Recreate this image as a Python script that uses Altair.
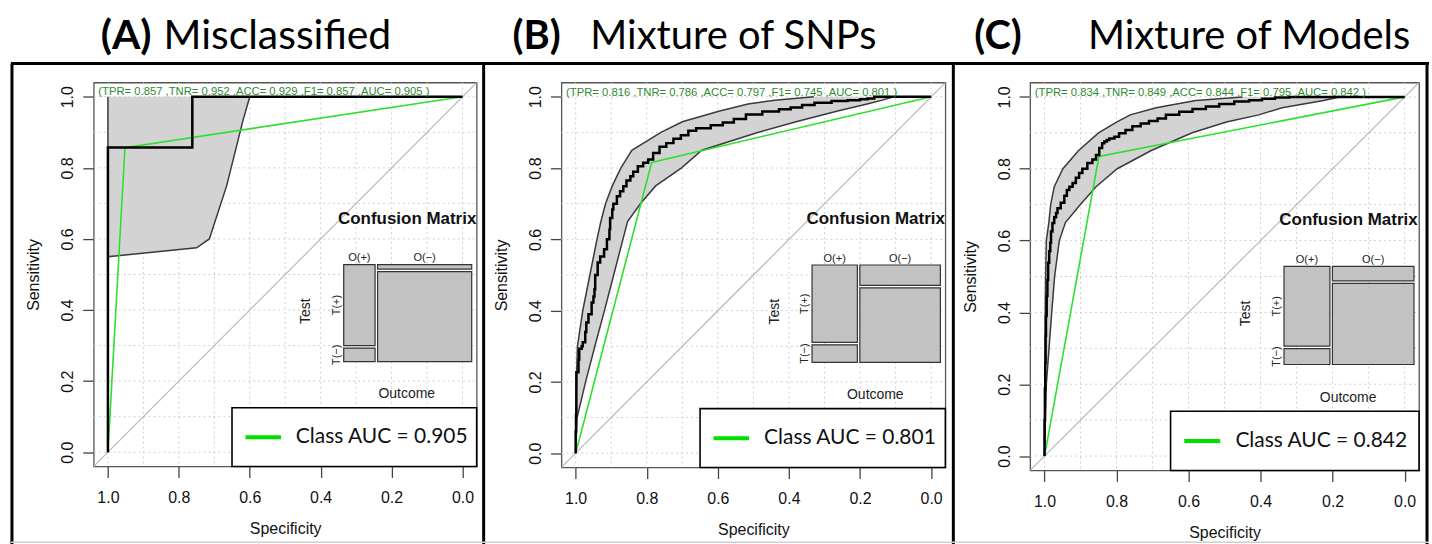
import altair as alt
import pandas as pd

# ---------------- data ----------------
PANEL_TAGS = ["(A)", "(B)", "(C)"]
PANEL_NAMES = ["Misclassified", "Mixture of SNPs", "Mixture of Models"]
TPR = [0.857, 0.816, 0.834]
TNR = [0.952, 0.786, 0.849]
ACC = [0.929, 0.797, 0.844]
F1 = [0.857, 0.745, 0.795]
AUC = [0.905, 0.801, 0.842]
POS_SHARE = [0.25, 0.36, 0.36]   # width share of the O(+) column in the mosaic

AXIS_TICKS = [0.0, 0.2, 0.4, 0.6, 0.8, 1.0]
GRID_STEPS = [0.0, 0.1, 0.2, 0.3, 0.4, 0.5, 0.6, 0.7, 0.8, 0.9, 1.0]

# black ROC curves (specificity, sensitivity)
ROC_SPEC = [
    [1.0, 1.0, 0.762, 0.762, 0.0],
    [1.0, 0.999, 0.998, 0.992, 0.990, 0.983, 0.980, 0.973, 0.970, 0.964, 0.955, 0.950, 0.947,
     0.945, 0.938, 0.931, 0.920, 0.912, 0.905, 0.903, 0.897, 0.894, 0.884, 0.875, 0.866,
     0.857, 0.846, 0.838, 0.825, 0.810, 0.796, 0.782, 0.764, 0.745, 0.725, 0.704, 0.683,
     0.661, 0.620, 0.586, 0.555, 0.521, 0.475, 0.428, 0.395, 0.363, 0.328, 0.280, 0.235,
     0.200, 0.179, 0.160, 0.142, 0.0],
    [1.0, 0.999, 0.998, 0.997, 0.996, 0.994, 0.992, 0.990, 0.987, 0.984, 0.982, 0.978, 0.973,
     0.968, 0.964, 0.955, 0.945, 0.938, 0.931, 0.922, 0.913, 0.904, 0.895, 0.881, 0.867,
     0.857, 0.848, 0.840, 0.834, 0.827, 0.820, 0.806, 0.793, 0.775, 0.756, 0.733, 0.710,
     0.686, 0.663, 0.626, 0.589, 0.552, 0.515, 0.473, 0.432, 0.396, 0.360, 0.320, 0.280, 0.0],
]
ROC_SENS = [
    [0.0, 0.857, 0.857, 1.0, 1.0],
    [0.0, 0.060, 0.107, 0.227, 0.262, 0.293, 0.300, 0.311, 0.340, 0.367, 0.390, 0.423, 0.440,
     0.460, 0.500, 0.535, 0.552, 0.572, 0.600, 0.628, 0.660, 0.684, 0.700, 0.721, 0.735,
     0.749, 0.765, 0.777, 0.790, 0.805, 0.815, 0.824, 0.842, 0.860, 0.870, 0.882, 0.892,
     0.905, 0.912, 0.920, 0.928, 0.938, 0.950, 0.959, 0.965, 0.970, 0.977, 0.983, 0.988,
     0.990, 0.993, 0.995, 1.0, 1.0],
    [0.0, 0.100, 0.188, 0.260, 0.335, 0.390, 0.446, 0.490, 0.538, 0.570, 0.594, 0.625, 0.649,
     0.665, 0.677, 0.690, 0.705, 0.725, 0.741, 0.750, 0.760, 0.775, 0.788, 0.800, 0.816,
     0.826, 0.838, 0.858, 0.871, 0.876, 0.880, 0.884, 0.889, 0.899, 0.908, 0.918, 0.926,
     0.933, 0.940, 0.950, 0.959, 0.966, 0.973, 0.980, 0.987, 0.991, 0.995, 0.998, 1.0, 1.0],
]

# confidence band: at each sensitivity, the specificity of the outer and inner limit
BAND_SENS = [
    [0.0, 0.55, 0.575, 0.60, 0.75, 0.93, 1.0],
    [0.0, 0.1, 0.2, 0.3, 0.4, 0.5, 0.6, 0.65, 0.7, 0.75, 0.8, 0.85, 0.9, 0.93, 0.96, 0.98, 0.99, 1.0],
    [0.0, 0.2, 0.4, 0.5, 0.6, 0.65, 0.7, 0.75, 0.8, 0.85, 0.9, 0.93, 0.95, 0.97, 0.99, 1.0],
]
BAND_HI = [
    [1.0, 1.0, 1.0, 1.0, 1.0, 1.0, 1.0],
    [1.0, 0.999, 0.998, 0.995, 0.980, 0.960, 0.940, 0.929, 0.916, 0.897, 0.873, 0.842, 0.760,
     0.700, 0.595, 0.515, 0.440, 0.330],
    [1.0, 0.999, 0.998, 0.997, 0.995, 0.988, 0.983, 0.973, 0.949, 0.906, 0.850, 0.800, 0.762,
     0.690, 0.580, 0.450],
]
BAND_LO = [
    [1.0, 1.0, 0.75, 0.714, 0.665, 0.62, 0.60],
    [1.0, 0.996, 0.972, 0.946, 0.919, 0.893, 0.867, 0.854, 0.818, 0.775, 0.703, 0.645, 0.488,
     0.380, 0.263, 0.180, 0.140, 0.105],
    [1.0, 0.995, 0.980, 0.972, 0.959, 0.942, 0.901, 0.857, 0.798, 0.705, 0.590, 0.495, 0.405,
     0.340, 0.225, 0.180],
]

# ---------------- layout ----------------
W = [384, 385, 390]
H = [385, 386, 389]
SPACING = 85
ORIGIN_X = [93, 562, 1032]
ORIGIN_Y = 81
PAGE_W, PAGE_H = 1432, 544
TITLE_TAG_X = [100, 513, 976]
TITLE_NAME_X = [163, 591, 1090]
TITLE_SIZE = [41, 40, 40]
TITLE_BASE_Y = 47

R_FONT = "Liberation Sans"
PPT_FONT = "Lato"
GREEN = "#2ee02e"
STAT_GREEN = "#2E8B2E"
DOM = [-0.04, 1.04]


def panel(i):
    w, h = W[i], H[i]
    xs = alt.Scale(domain=DOM, reverse=True, nice=False, zero=False)
    ys = alt.Scale(domain=DOM, nice=False, zero=False)
    xaxis = alt.Axis(values=AXIS_TICKS, format=".1f", title="Specificity", grid=False, domain=False,
                     tickSize=11, tickColor="#444", tickWidth=1.3, labelFont=R_FONT, labelFontSize=16,
                     labelPadding=12, labelColor="#111", labelFlush=False, labelOverlap=False,
                     titleFont=R_FONT, titleFontSize=16, titleFontWeight="normal", titleColor="#111",
                     titleY=62, titleBaseline="middle")
    yaxis = alt.Axis(values=AXIS_TICKS, format=".1f", title="Sensitivity", grid=False, domain=False,
                     tickSize=11, tickColor="#444", tickWidth=1.3, labelFont=R_FONT, labelFontSize=16,
                     labelPadding=10, labelColor="#111", labelFlush=False, labelOverlap=False,
                     labelAngle=270, labelAlign="center", labelBaseline="alphabetic",
                     titleFont=R_FONT, titleFontSize=16, titleFontWeight="normal", titleColor="#111",
                     titleAngle=270, titleX=-60, titleY=h / 2, titleAlign="center", titleBaseline="middle")

    def X(f):
        return alt.X(f, type="quantitative", scale=xs, axis=xaxis)

    def Y(f):
        return alt.Y(f, type="quantitative", scale=ys, axis=yaxis)

    one = pd.DataFrame({"a": [0]})
    layers = []

    if i == 0:
        # invisible page-sized rectangle that pins the drawing to the 1432x544 page
        layers.append(alt.Chart(one).mark_rect(fill="white", opacity=0, stroke=None).encode(
            x=alt.value(-ORIGIN_X[0]), x2=alt.value(PAGE_W - ORIGIN_X[0]),
            y=alt.value(-ORIGIN_Y), y2=alt.value(PAGE_H - ORIGIN_Y)))

    grid = pd.DataFrame({"g": GRID_STEPS})
    layers.append(alt.Chart(grid).mark_rule(color="#d0d0d0", strokeDash=[2, 3], strokeWidth=1).encode(
        x=X("g"), y=alt.value(0), y2=alt.value(h)))
    layers.append(alt.Chart(grid).mark_rule(color="#d0d0d0", strokeDash=[2, 3], strokeWidth=1).encode(
        y=Y("g"), x=alt.value(0), x2=alt.value(w)))

    diag = pd.DataFrame({"spec": [1.04, -0.04], "sens": [-0.04, 1.04]})
    layers.append(alt.Chart(diag).mark_line(color="#b4b4b4", strokeWidth=1.1).encode(
        x=X("spec"), y=Y("sens")))

    band = pd.DataFrame({"sens": BAND_SENS[i], "hi": BAND_HI[i], "lo": BAND_LO[i]})
    layers.append(alt.Chart(band).mark_area(orient="horizontal", color="#d3d3d3", opacity=1).encode(
        y=Y("sens"), x=X("hi"), x2="lo"))
    layers.append(alt.Chart(band).mark_line(color="#3a3a3a", strokeWidth=1.5).encode(
        x=X("hi"), y=Y("sens"), order="sens"))
    layers.append(alt.Chart(band).mark_line(color="#3a3a3a", strokeWidth=1.5).encode(
        x=X("lo"), y=Y("sens"), order="sens"))

    green = pd.DataFrame({"spec": [1.0, TNR[i], 0.0], "sens": [0.0, TPR[i], 1.0], "k": [0, 1, 2]})
    layers.append(alt.Chart(green).mark_line(color=GREEN, strokeWidth=1.6).encode(
        x=X("spec"), y=Y("sens"), order="k"))

    roc = pd.DataFrame({"spec": ROC_SPEC[i], "sens": ROC_SENS[i], "k": list(range(len(ROC_SPEC[i])))})
    layers.append(alt.Chart(roc).mark_line(color="black", strokeWidth=2.5,
                                           interpolate="linear" if i == 0 else "step-before").encode(
        x=X("spec"), y=Y("sens"), order="k"))

    stat = (f"(TPR= {TPR[i]:.3f} ,TNR= {TNR[i]:.3f} ,ACC= {ACC[i]:.3f} ,F1= {F1[i]:.3f} ,"
            f"AUC= {AUC[i]:.3f} )")
    layers.append(alt.Chart(pd.DataFrame({"spec": [1.027], "sens": [1.012], "t": [stat]})).mark_text(
        align="left", baseline="middle", font=R_FONT, fontSize=11.3, color=STAT_GREEN).encode(
        x=X("spec"), y=Y("sens"), text="t"))

    # confusion matrix mosaic
    xl, xr, yb, yt, gap = 0.335, -0.026, 0.255, 0.528, 0.007
    ww = xl - xr - gap
    hh = yt - yb - gap
    w1 = ww * POS_SHARE[i]
    c1 = (xl, xl - w1)
    c2 = (xl - w1 - gap, xr)
    cells = pd.DataFrame({
        "x1": [c1[0], c1[0], c2[0], c2[0]],
        "x2": [c1[1], c1[1], c2[1], c2[1]],
        "y1": [yt - hh * TPR[i], yb, yt - hh * (1 - TNR[i]), yb],
        "y2": [yt, yb + hh * (1 - TPR[i]), yt, yb + hh * TNR[i]],
    })
    layers.append(alt.Chart(cells).mark_rect(fill="#c2c2c2", stroke="#333", strokeWidth=1.2).encode(
        x=X("x1"), x2="x2", y=Y("y1"), y2="y2"))
    top_lbl = pd.DataFrame({"spec": [(c1[0] + c1[1]) / 2, (c2[0] + c2[1]) / 2],
                            "sens": [yt + 0.004, yt + 0.004], "t": ["O(+)", "O(\u2212)"]})
    layers.append(alt.Chart(top_lbl).mark_text(baseline="bottom", font=R_FONT, fontSize=11,
                                               color="#222").encode(x=X("spec"), y=Y("sens"), text="t"))
    side_lbl = pd.DataFrame({"spec": [0.340, 0.340],
                             "sens": [yt - hh * TPR[i] / 2, yb + hh * (1 - TPR[i]) / 2],
                             "t": ["T(+)", "T(\u2212)"]})
    layers.append(alt.Chart(side_lbl).mark_text(baseline="bottom", align="center", angle=270,
                                                font=R_FONT, fontSize=11, color="#222").encode(
        x=X("spec"), y=Y("sens"), text="t"))
    layers.append(alt.Chart(pd.DataFrame({"spec": [0.44], "sens": [0.397], "t": ["Test"]})).mark_text(
        baseline="middle", align="center", angle=270, font=R_FONT, fontSize=14, color="#222").encode(
        x=X("spec"), y=Y("sens"), text="t"))
    layers.append(alt.Chart(pd.DataFrame({"spec": [0.157], "sens": [0.163], "t": ["Outcome"]})).mark_text(
        baseline="middle", align="center", font=R_FONT, fontSize=14, color="#222").encode(
        x=X("spec"), y=Y("sens"), text="t"))
    layers.append(alt.Chart(pd.DataFrame({"spec": [0.156], "sens": [0.657], "t": ["Confusion Matrix"]})).mark_text(
        baseline="middle", align="center", font=R_FONT, fontSize=17, fontWeight="bold", color="#111").encode(
        x=X("spec"), y=Y("sens"), text="t"))

    # legend box
    leg = pd.DataFrame({"x1": [0.65], "x2": [-0.04], "y1": [-0.04], "y2": [0.125]})
    layers.append(alt.Chart(leg).mark_rect(fill="white", stroke="black", strokeWidth=1.6).encode(
        x=X("x1"), x2="x2", y=Y("y1"), y2="y2"))
    legline = pd.DataFrame({"spec": [0.612, 0.512], "sens": [0.042, 0.042]})
    layers.append(alt.Chart(legline).mark_line(color="#00e000", strokeWidth=4).encode(
        x=X("spec"), y=Y("sens")))
    layers.append(alt.Chart(pd.DataFrame({"spec": [0.47], "sens": [0.042],
                                          "t": [f"Class AUC = {AUC[i]:.3f}"]})).mark_text(
        align="left", baseline="middle", font=PPT_FONT, fontSize=21, color="#111").encode(
        x=X("spec"), y=Y("sens"), text="t"))

    # panel title
    ox = ORIGIN_X[i]
    layers.append(alt.Chart(pd.DataFrame({"t": [PANEL_TAGS[i]]})).mark_text(
        align="left", baseline="alphabetic", font=PPT_FONT, fontSize=TITLE_SIZE[i], fontWeight="bold",
        color="black").encode(x=alt.value(TITLE_TAG_X[i] - ox), y=alt.value(TITLE_BASE_Y - ORIGIN_Y),
                              text="t"))
    layers.append(alt.Chart(pd.DataFrame({"t": [PANEL_NAMES[i]]})).mark_text(
        align="left", baseline="alphabetic", font=PPT_FONT, fontSize=TITLE_SIZE[i], color="black").encode(
        x=alt.value(TITLE_NAME_X[i] - ox), y=alt.value(TITLE_BASE_Y - ORIGIN_Y), text="t"))

    if i == 0:
        oy = ORIGIN_Y
        # panel frames
        layers.append(alt.Chart(one).mark_rule(color="black", strokeWidth=3).encode(
            x=alt.value(10 - ox), x2=alt.value(PAGE_W - ox), y=alt.value(62 - oy)))
        for vx in [11, 484, 955, 1430]:
            layers.append(alt.Chart(one).mark_rule(color="black", strokeWidth=3).encode(
                x=alt.value(vx - ox), y=alt.value(62 - oy), y2=alt.value(PAGE_H - oy)))
        layers.append(alt.Chart(one).mark_rule(color="#cfcfcf", strokeWidth=1.5).encode(
            x=alt.value(10 - ox), x2=alt.value(PAGE_W - ox), y=alt.value(542 - oy)))

    return alt.layer(*layers).properties(width=w, height=h)


chart = alt.hconcat(panel(0), panel(1), panel(2), spacing=SPACING, bounds="flush").properties(
    padding=0, background="white"
).configure_view(stroke="#555", strokeWidth=1.3)

chart.save("out.html", embed_options={"renderer": "svg", "actions": False})
